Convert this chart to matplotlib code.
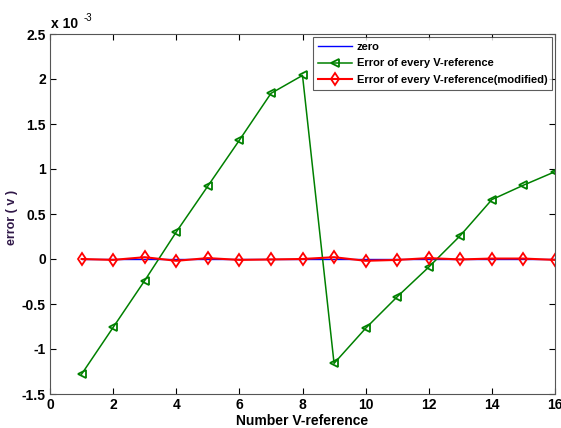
import matplotlib
matplotlib.use("Agg")
import matplotlib.pyplot as plt
import numpy as np

plt.rcParams["font.family"] = ["Liberation Sans", "DejaVu Sans"]
plt.rcParams["font.weight"] = "bold"

# data (values in units of 1e-3 V)
vref_index = np.arange(1, 17)
zero_line = np.zeros(16)
error_raw = [-1.28, -0.76, -0.24, 0.30, 0.81, 1.32, 1.84, 2.04,
             -1.16, -0.77, -0.42, -0.09, 0.26, 0.66, 0.82, 0.97]
error_modified = [0.0, -0.01, 0.02, -0.02, 0.01, -0.01, -0.005, 0.0,
                  0.02, -0.02, -0.01, 0.01, -0.005, 0.005, 0.005, -0.01]
x_ticks = [0, 2, 4, 6, 8, 10, 12, 14, 16]
y_ticks = [-1.5, -1, -0.5, 0, 0.5, 1, 1.5, 2, 2.5]

fig = plt.figure(figsize=(5.61, 4.28), dpi=100)
ax = fig.add_axes([50 / 561, 1 - 394 / 428, 505 / 561, 360 / 428])

ax.plot(vref_index, zero_line, color="#0000ff", linewidth=1, label="zero")
ax.plot(vref_index, error_raw, color="#008000", linewidth=1.1, marker="<",
        markersize=6, markerfacecolor="none", markeredgewidth=1.3,
        label="Error of every V-reference")
ax.plot(vref_index, error_modified, color="#ff0000", linewidth=1.5, marker="d",
        markersize=6, markerfacecolor="none", markeredgewidth=1.3,
        label="Error of every V-reference(modified)")

ax.set_xlim(0, 16)
ax.set_ylim(-1.5, 2.5)
ax.set_xticks(x_ticks)
ax.set_xticklabels([f"{t:g}" for t in x_ticks])
ax.set_yticks(y_ticks)
ax.set_yticklabels([f"{t:g}" for t in y_ticks])
ax.tick_params(direction="in", length=4, width=0.8, labelsize=10,
               top=True, right=True, pad=3)
for spine in ax.spines.values():
    spine.set_linewidth(0.8)
    spine.set_color("#555555")

ax.annotate("x 10", xy=(0, 1), xycoords="axes fraction", xytext=(1, 2),
            textcoords="offset points", fontsize=10, ha="left", va="bottom")
ax.annotate("-3", xy=(0, 1), xycoords="axes fraction", xytext=(24, 8),
            textcoords="offset points", fontsize=7, ha="left", va="bottom",
            fontweight="normal")
ax.set_xlabel("Number V-reference", fontsize=10, fontweight="bold",
              labelpad=1)
ax.set_ylabel("error ( v )", fontsize=9, fontweight="bold", color="#301848")
ax.yaxis.set_label_coords(-0.064, 0.49)

leg = ax.legend(loc="upper right", fontsize=8, frameon=True, fancybox=False,
                borderaxespad=0.25, handlelength=3.1, labelspacing=0.6,
                borderpad=0.45, handletextpad=0.4)
leg.get_frame().set_edgecolor("#333333")
leg.get_frame().set_linewidth(0.8)
for t in leg.get_texts():
    t.set_fontweight("bold")

fig.savefig("out.png", dpi=100)
